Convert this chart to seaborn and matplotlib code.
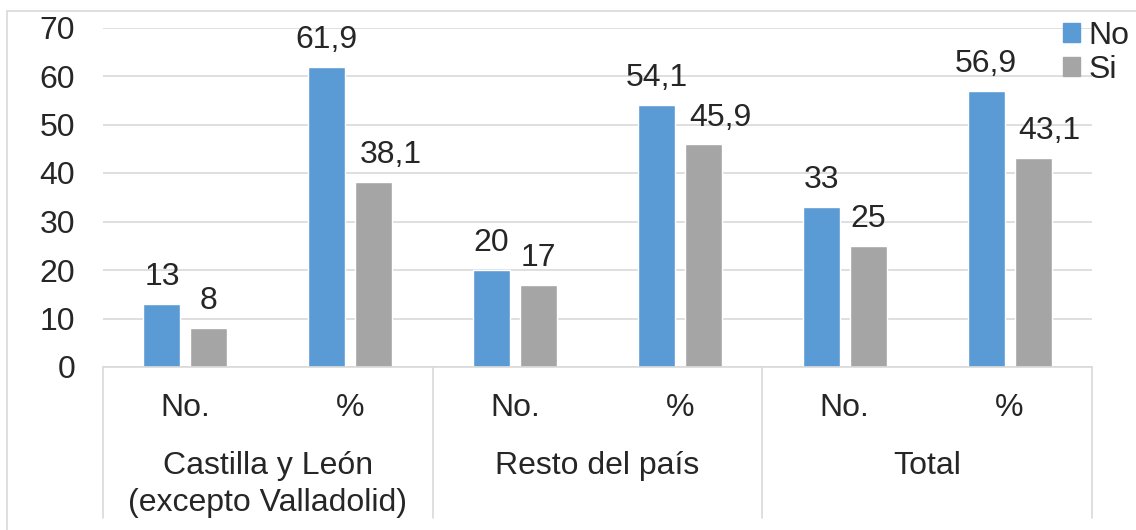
# Grouped bar chart: No / Si by origin, count and percentage, Excel-like styling

import pandas as pd
import matplotlib
matplotlib.use("Agg")
from matplotlib import pyplot as plt
from matplotlib import transforms
from matplotlib.patches import Rectangle
import seaborn as sb

# Data
groups = ["Castilla y León\n(excepto Valladolid)", "Resto del país", "Total"]
measures = ["No.", "%"]
series = ["No", "Si"]
no_values = [13, 61.9, 20, 54.1, 33, 56.9]
si_values = [8, 38.1, 17, 45.9, 25, 43.1]
y_ticks = [0, 10, 20, 30, 40, 50, 60, 70]

# Long-form table for seaborn
cats = [g + " | " + m for g in groups for m in measures]
data = pd.DataFrame({
    "cat": cats * 2,
    "serie": [series[0]] * len(cats) + [series[1]] * len(cats),
    "valor": no_values + si_values,
})

sb.set_style("white")
plt.rcParams["font.family"] = ["Liberation Sans", "DejaVu Sans"]
FS = 23
GRID = "#D9D9D9"

fig = plt.figure(figsize=(11.36, 5.30), dpi=100)
ax = fig.add_axes([103 / 1136, 1 - 367 / 530, 989 / 1136, 339.5 / 530])

sb.barplot(data=data, x="cat", y="valor", hue="serie", order=cats,
           palette=["#5B9BD5", "#A5A5A5"], width=0.57, gap=0.21,
           ax=ax, legend=False, saturation=1)

ax.set_xlim(-0.5, len(cats) - 0.5)
ax.set_ylim(0, 70)
ax.set_yticks(y_ticks)
ax.set_yticklabels([str(t) for t in y_ticks], fontsize=FS)
ax.tick_params(axis="y", length=0, pad=20)
ax.set_xticks([])
ax.set_xlabel("")
ax.set_ylabel("")
ax.yaxis.grid(True, color=GRID, linewidth=1.2)
ax.set_axisbelow(True)
for s in ["left", "top", "right"]:
    ax.spines[s].set_visible(False)
ax.spines["bottom"].set_color(GRID)
ax.spines["bottom"].set_linewidth(1.2)

# Value labels (decimal comma)
for ci, cont in enumerate(ax.containers):
    for bar in cont:
        v = bar.get_height()
        txt = f"{v:g}".replace(".", ",")
        dx = 0
        if ci == 1 and "," in txt:
            dx = 12  # these labels sit a bit to the right in the original
        ax.annotate(txt, (bar.get_x() + bar.get_width() / 2, v),
                    xytext=(dx, 13.5), textcoords="offset points",
                    ha="center", va="baseline", fontsize=FS)

# Multi-level category axis
trans = transforms.blended_transform_factory(ax.transData, ax.transAxes)
px = 1 / 339.5
for i, c in enumerate(cats):
    ax.text(i, -(416 - 367) * px, c.split(" | ")[1], transform=trans,
            ha="center", va="baseline", fontsize=FS)
for gi, g in enumerate(groups):
    xc = gi * 2 + 0.5
    for li, line in enumerate(g.split("\n")):
        ax.text(xc, -(474 - 367 + li * 37) * px, line, transform=trans,
                ha="center", va="baseline", fontsize=FS)
for b in range(len(groups) + 1):
    ax.plot([b * 2 - 0.5, b * 2 - 0.5], [0, -(518 - 367) * px], transform=trans,
            color=GRID, linewidth=1.2, clip_on=False)

# Legend
handles = [Rectangle((0, 0), 1, 1, color=c) for c in ["#5B9BD5", "#A5A5A5"]]
ax.legend(handles, series, loc="upper left", frameon=False, fontsize=FS,
          bbox_to_anchor=(1063 / 1136, 1 - 21 / 530), bbox_transform=fig.transFigure,
          handlelength=0.54, handleheight=0.54, handletextpad=0.25,
          labelspacing=0.12, borderpad=0, borderaxespad=0)

# Outer chart frame (cropped on the right and bottom)
fig.patches.append(Rectangle((7 / 1136, -0.1), 1.2, 1.1 - 11 / 530,
                             transform=fig.transFigure, fill=False,
                             edgecolor=GRID, linewidth=1.2))

fig.savefig("out.png", dpi=100)
